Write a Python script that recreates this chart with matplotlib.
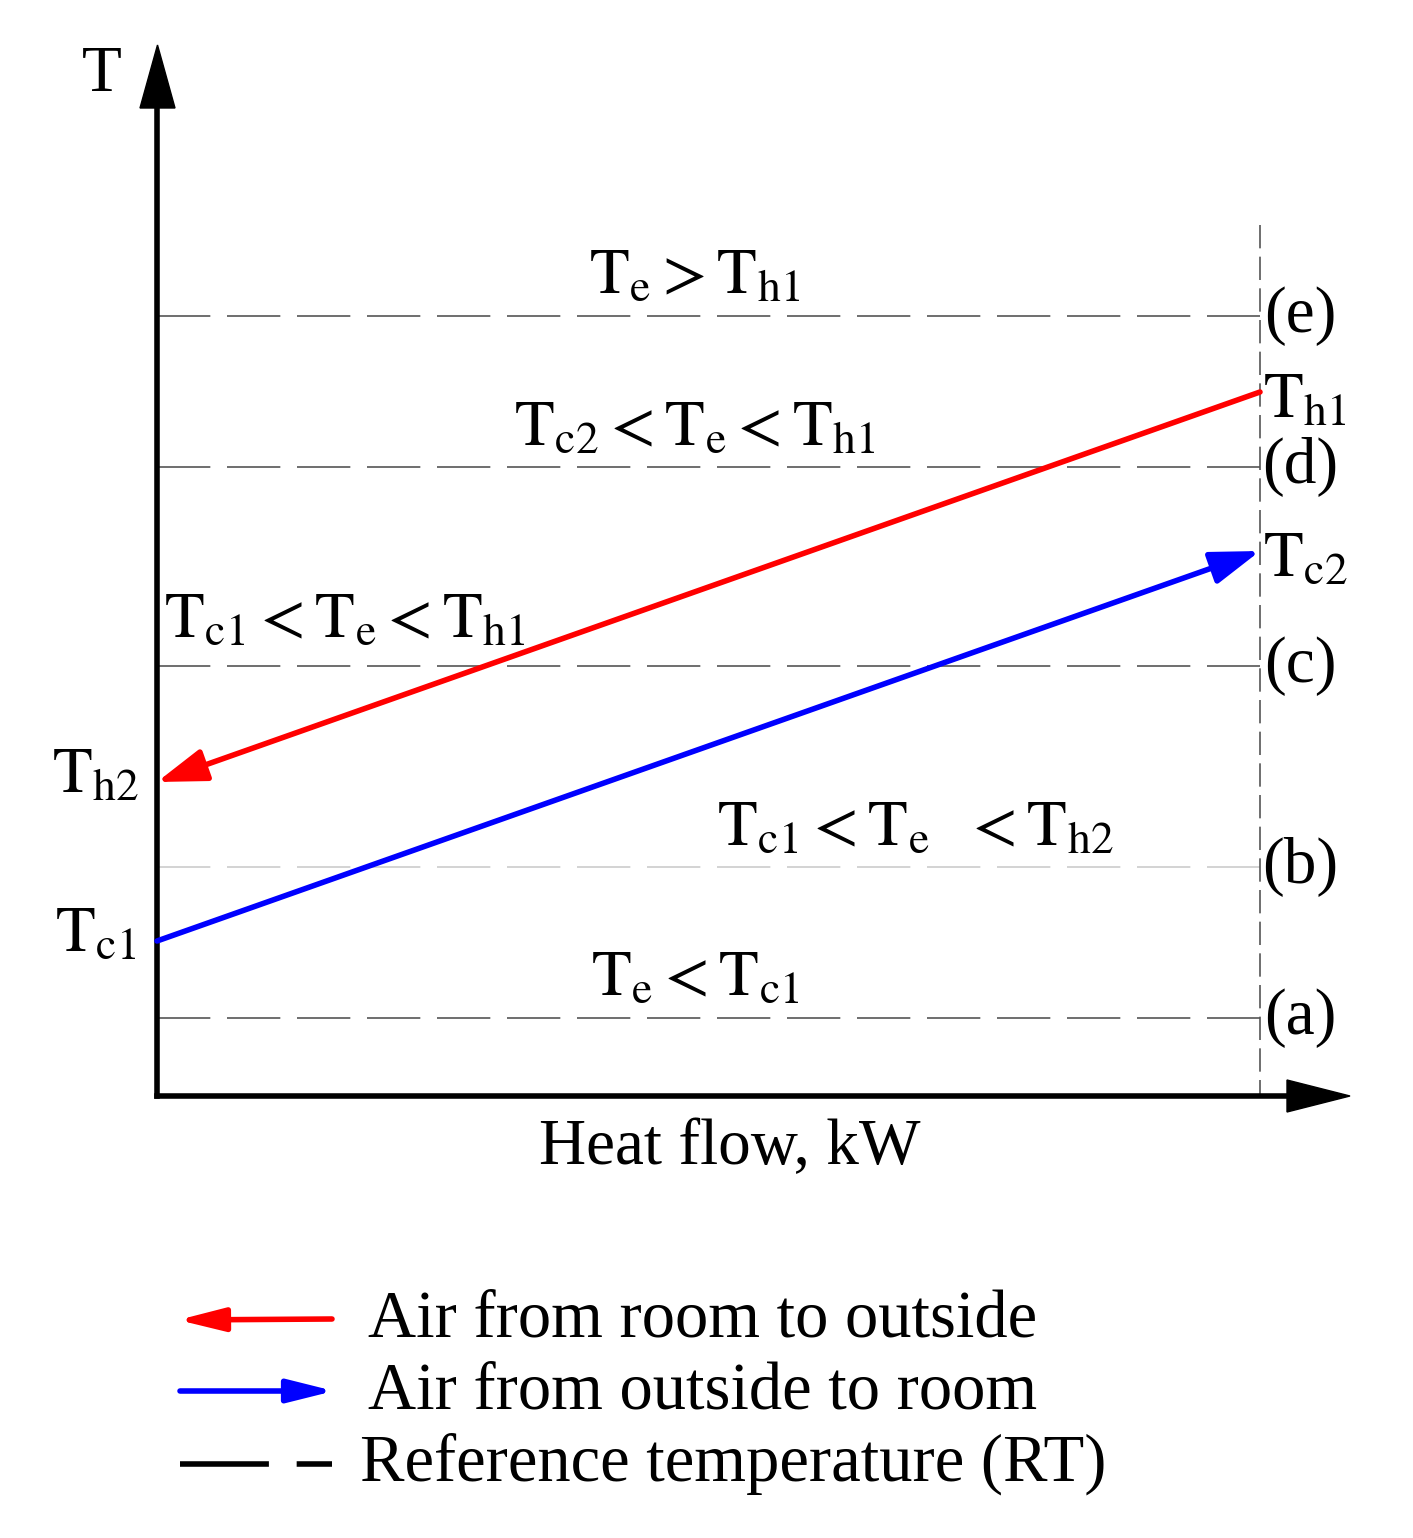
import matplotlib
matplotlib.use("Agg")
import matplotlib.pyplot as plt

plt.rcParams['mathtext.fontset'] = 'stix'
plt.rcParams['font.family'] = ['Liberation Serif', 'DejaVu Serif']

# schematic levels (pixel-like units, y downward)
ref_levels = [316, 467, 666, 867, 1018]
ref_labels = ['(e)', '(d)', '(c)', '(b)', '(a)']
ref_colors = ['#555555', '#555555', '#555555', '#cccccc', '#555555']
x0, x1 = 157, 1260
hot_line = [392, 782]   # Th1 at right, Th2 at left
cold_line = [941, 551]  # Tc1 at left, Tc2 at right
region_texts = [(695, 278, r'$\mathrm{T_e > T_{h1}}$'),
                (695, 430, r'$\mathrm{T_{c2} < T_e < T_{h1}}$'),
                (345, 622, r'$\mathrm{T_{c1} < T_e < T_{h1}}$'),
                (915, 830, r'$\mathrm{T_{c1} <T_e\ \ < T_{h2}}$'),
                (695, 980, r'$\mathrm{T_e < T_{c1}}$')]

fig = plt.figure(figsize=(14.13, 15.38), dpi=100)
ax = fig.add_axes([0, 0, 1, 1])
ax.set_xlim(0, 1413); ax.set_ylim(1538, 0); ax.axis('off')

fs = 47
for y, lab, c in zip(ref_levels, ref_labels, ref_colors):
    ax.plot([x0, x1], [y, y], color=c, lw=1.2, dashes=(32, 10))
    ax.text(1300, y, lab, fontsize=fs, ha='center', va='center')
ax.plot([x1, x1], [225, 1096], color='#555555', lw=1.2, dashes=(14, 5))

# axes with arrows
ax.plot([x0, x0], [1096, 100], color='k', lw=4)
ax.fill([140, 175, 157.5], [108, 108, 45], color='k')
ax.plot([x0, 1295], [1096, 1096], color='k', lw=4)
ax.fill([1287, 1287, 1350], [1080, 1112, 1096], color='k')
ax.text(102, 75, 'T', fontsize=fs, ha='center', va='center')
ax.text(730, 1148, 'Heat flow, kW', fontsize=fs, ha='center', va='center')

ax.annotate('', xy=(x0, hot_line[1]), xytext=(x1, hot_line[0]),
            arrowprops=dict(arrowstyle='-|>,head_length=3.0,head_width=1.0', color='red', lw=4, shrinkA=0, shrinkB=0))
ax.annotate('', xy=(x1, cold_line[1]), xytext=(x0, cold_line[0]),
            arrowprops=dict(arrowstyle='-|>,head_length=3.0,head_width=1.0', color='blue', lw=4, shrinkA=0, shrinkB=0))

ax.text(1263, hot_line[0] + 10, r'$\mathrm{T_{h1}}$', fontsize=fs, ha='left', va='center')
ax.text(1263, cold_line[1] + 10, r'$\mathrm{T_{c2}}$', fontsize=fs, ha='left', va='center')
ax.text(52, hot_line[1] - 5, r'$\mathrm{T_{h2}}$', fontsize=fs, ha='left', va='center')
ax.text(55, cold_line[0] - 5, r'$\mathrm{T_{c1}}$', fontsize=fs, ha='left', va='center')
for x, y, s in region_texts:
    ax.text(x, y, s, fontsize=fs, ha='center', va='center')

# legend
ax.annotate('', xy=(178, 1320), xytext=(332, 1319),
            arrowprops=dict(arrowstyle='-|>,head_length=2.8,head_width=0.7', color='red', lw=4, shrinkA=0, shrinkB=0))
ax.annotate('', xy=(334, 1391), xytext=(180, 1391),
            arrowprops=dict(arrowstyle='-|>,head_length=2.8,head_width=0.7', color='blue', lw=4, shrinkA=0, shrinkB=0))
ax.plot([180, 332], [1464, 1464], color='k', lw=4, dashes=(16, 5))
ax.text(368, 1320, 'Air from room to outside', fontsize=fs + 1, va='center')
ax.text(368, 1392, 'Air from outside to room', fontsize=fs + 1, va='center')
ax.text(360, 1464, 'Reference temperature (RT)', fontsize=fs + 1, va='center')

fig.savefig('out.png', dpi=100)
